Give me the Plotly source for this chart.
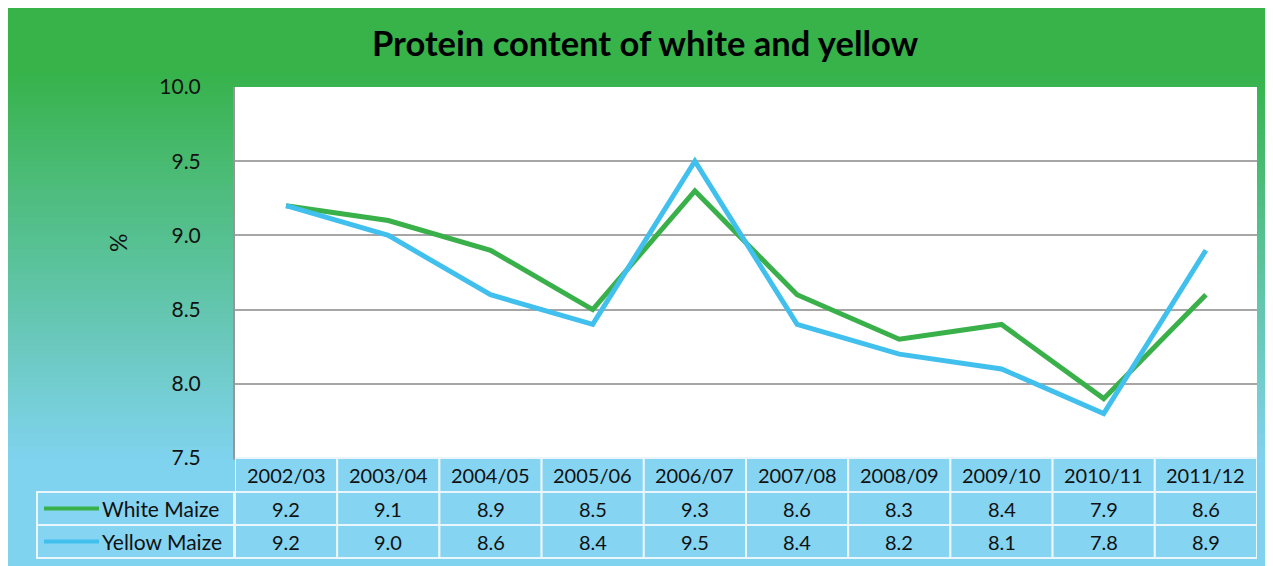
import plotly.graph_objects as go
import numpy as np

# ---------------- data ----------------
categories = ["2002/03", "2003/04", "2004/05", "2005/06", "2006/07",
              "2007/08", "2008/09", "2009/10", "2010/11", "2011/12"]
white_maize = [9.2, 9.1, 8.9, 8.5, 9.3, 8.6, 8.3, 8.4, 7.9, 8.6]
yellow_maize = [9.2, 9.0, 8.6, 8.4, 9.5, 8.4, 8.2, 8.1, 7.8, 8.9]
series_names = ["White Maize", "Yellow Maize"]
y_ticks = [7.5, 8.0, 8.5, 9.0, 9.5, 10.0]

# ---------------- geometry (page pixels; page body has an 8px margin) ----------------
OFF = 8
W, H = 1273 - OFF, 566 - OFF
L, R, T, B = 235, 1257, 87, 458
PW, PH = R - L, B - T

def px(x):
    return (x - L) / PW

def py(y):
    return (B - y) / PH

GREEN = "#39b04a"
BLUE = "#41c0ee"
FONT = "Lato"

fig = go.Figure()
fig.add_trace(go.Scatter(x=categories, y=white_maize, mode="lines", name=series_names[0],
                         line=dict(color=GREEN, width=5), showlegend=False))
fig.add_trace(go.Scatter(x=categories, y=yellow_maize, mode="lines", name=series_names[1],
                         line=dict(color=BLUE, width=5), showlegend=False))

shapes = []
# gradient background strips
top, bot, left, right = 8, 580, 6, 1290
n = 90
c_top = np.array([55, 179, 74])
c_bot = np.array([128, 211, 238])
edges = np.linspace(top, bot, n + 1)
for i in range(n):
    mid = (edges[i] + edges[i + 1]) / 2
    f = np.clip((mid - 70) / (458 - 70), 0, 1)
    c = (c_top + f * (c_bot - c_top)).astype(int)
    shapes.append(dict(type="rect", xref="paper", yref="paper", layer="below",
                       x0=px(left), x1=px(right), y0=py(edges[i + 1]) - 0.001, y1=py(edges[i]) + 0.001,
                       line=dict(width=0), fillcolor=f"rgb({c[0]},{c[1]},{c[2]})"))
# white plot area
shapes.append(dict(type="rect", xref="paper", yref="paper", layer="below",
                   x0=0, x1=1, y0=0, y1=1, line=dict(width=0), fillcolor="white"))

CELL_FILL = "#85d4f2"
CELL_LINE = dict(color="#eaf6fb", width=2)
rows = [(458, 492), (492, 525), (525, 558)]
for i in range(len(categories)):
    for r, (ya, yb) in enumerate(rows):
        shapes.append(dict(type="rect", xref="x", yref="paper", layer="above",
                           x0=i - 0.5, x1=i + 0.5, y0=py(yb), y1=py(ya),
                           line=CELL_LINE, fillcolor=CELL_FILL))
for ya, yb in rows[1:]:
    shapes.append(dict(type="rect", xref="paper", yref="paper", layer="above",
                       x0=px(37), x1=px(234), y0=py(yb), y1=py(ya),
                       line=CELL_LINE, fillcolor=CELL_FILL))
for (ya, yb), col in zip(rows[1:], [GREEN, BLUE]):
    yc = py((ya + yb) / 2)
    shapes.append(dict(type="line", xref="paper", yref="paper", layer="above",
                       x0=px(44), x1=px(99), y0=yc, y1=yc, line=dict(color=col, width=4)))

annotations = []
TXT = dict(family=FONT, size=20, color="#111111")
for i, cat in enumerate(categories):
    annotations.append(dict(x=cat, xref="x", y=py((rows[0][0] + rows[0][1]) / 2), yref="paper",
                            text=cat, showarrow=False, font=TXT, xanchor="center", yanchor="middle"))
    for (ya, yb), vals in zip(rows[1:], [white_maize, yellow_maize]):
        annotations.append(dict(x=cat, xref="x", y=py((ya + yb) / 2), yref="paper",
                                text=f"{vals[i]:.1f}", showarrow=False, font=TXT,
                                xanchor="center", yanchor="middle"))
for (ya, yb), name in zip(rows[1:], series_names):
    annotations.append(dict(x=px(100), xref="paper", y=py((ya + yb) / 2), yref="paper",
                            text=name, showarrow=False, font=dict(family=FONT, size=21, color="#111111"),
                            xanchor="left", yanchor="middle"))
annotations.append(dict(x=px(118), xref="paper", y=py(243), yref="paper", text="%",
                        textangle=-90, showarrow=False, font=dict(family=FONT, size=23, color="#111111"),
                        xanchor="center", yanchor="middle"))
annotations.append(dict(x=px(645), xref="paper", y=py(43), yref="paper",
                        text="<b>Protein content of white and yellow</b>", showarrow=False,
                        font=dict(family=FONT, size=34.5, color="#000000"),
                        xanchor="center", yanchor="middle"))

fig.update_layout(
    width=W, height=H,
    margin=dict(l=L - OFF, r=W - (R - OFF), t=T - OFF, b=H - (B - OFF)),
    paper_bgcolor="white",
    plot_bgcolor="rgba(0,0,0,0)",
    shapes=shapes,
    annotations=annotations,
    showlegend=False,
    xaxis=dict(type="category", range=[-0.5, len(categories) - 0.5], showticklabels=False,
               showgrid=False, zeroline=False, showline=True, linecolor="#a0a0a0", linewidth=2,
               ticks=""),
    yaxis=dict(range=[y_ticks[0], y_ticks[-1]], tickvals=y_ticks, tickformat=".1f",
               showgrid=True, gridcolor="#a6a6a6", gridwidth=1.5, zeroline=False,
               showline=True, linecolor="#969696", linewidth=2, ticks="",
               ticklabelstandoff=28,
               tickfont=dict(family=FONT, size=21, color="#111111")),
)

fig.write_html("out.html")
